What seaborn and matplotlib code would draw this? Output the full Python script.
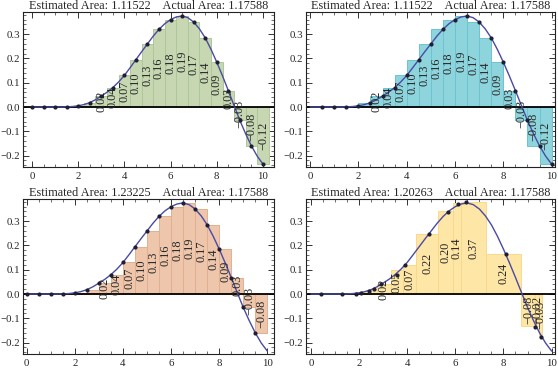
import numpy as np
import pandas as pd
import matplotlib
matplotlib.use("Agg")
import matplotlib.pyplot as plt
from matplotlib.ticker import MultipleLocator
import seaborn as sns

# curve, step 0.25
curve_x = [i * 0.25 for i in range(41)]
curve_y = [0, 0, 0, 0, 0, 0, 0.0005, 0.002, 0.005, 0.01, 0.018, 0.03, 0.045, 0.061,
           0.08, 0.103, 0.13, 0.162, 0.195, 0.228, 0.26, 0.292, 0.32, 0.343, 0.36,
           0.371, 0.375, 0.368, 0.35, 0.322, 0.285, 0.238, 0.185, 0.128, 0.068,
           0.006, -0.055, -0.11, -0.16, -0.202, -0.235]

# regular sample points (step 0.5)
grid_x = [i * 0.5 for i in range(21)]
grid_y = [0, 0, 0, 0.001, 0.005, 0.018, 0.045, 0.08, 0.13, 0.195, 0.26, 0.32, 0.36,
          0.375, 0.35, 0.285, 0.185, 0.068, -0.055, -0.16, -0.235]

lab_right = ["", "", "", "", "", "0.02", "0.04", "0.07", "0.10", "0.13", "0.16",
             "0.18", "0.19", "0.17", "0.14", "0.09", "0.03", "\u22120.03", "\u22120.08", "\u22120.12"]
lab_left = ["", "", "", "", "", "", "0.02", "0.04", "0.07", "0.10", "0.13", "0.16",
            "0.18", "0.19", "0.17", "0.14", "0.09", "0.03", "\u22120.03", "\u22120.08"]

# irregular partition (bottom right)
p4_edges = [0, 0.85, 1.6, 1.95, 2.2, 2.5, 2.76, 3.31, 3.83, 4.38, 5.27, 5.89, 6.25,
            7.27, 8.72, 9.33, 9.47, 9.62]
p4_heights = [0, 0, 0.002, 0.006, 0.014, 0.02, 0.04, 0.1, 0.121, 0.249, 0.341, 0.373,
              0.377, 0.1665, -0.13, -0.13, -0.175]
p4_labels = ["", "", "", "", "", "", "0.02", "0.05", "0.07", "0.22", "0.20", "0.14",
             "0.37", "0.24", "\u22120.08", "\u22120.02", "\u22120.03"]
p4_dot_x = [0.44, 1.31, 1.86, 2.07, 2.41, 2.62, 2.9, 3.59, 3.9, 4.9, 5.68, 6.1, 6.44,
            8.11, 9.31, 9.56]
p4_dot_y = [0, 0, 0.001, 0.006, 0.014, 0.022, 0.04, 0.08, 0.121, 0.249, 0.336, 0.369,
            0.377, 0.166, -0.134, -0.178]

titles = ["Estimated Area: 1.11522    Actual Area: 1.17588",
          "Estimated Area: 1.11522    Actual Area: 1.17588",
          "Estimated Area: 1.23225    Actual Area: 1.17588",
          "Estimated Area: 1.20263    Actual Area: 1.17588"]
fills = ["#c6d7b1", "#8ed4dc", "#edc6ab", "#fee6a6"]
edges = ["#aec79a", "#6cc4cf", "#e3b08f", "#f8d98c"]

sns.set_style("ticks")
plt.rcParams['font.family'] = ['Liberation Serif', 'DejaVu Serif']
plt.rcParams['axes.unicode_minus'] = True

fig = plt.figure(figsize=(5.58, 3.74), dpi=100)
boxes = [[0.0407, 0.5535, 0.4504, 0.4135], [0.548, 0.5535, 0.4466, 0.4135],
         [0.0407, 0.0535, 0.4504, 0.4135], [0.548, 0.0535, 0.4466, 0.4135]]
xlims = [(-0.4, 10.48), (-0.18, 10.14), (-0.17, 10.28), (-0.21, 10.14)]

curve = pd.DataFrame({"x": curve_x, "y": curve_y})
grid = pd.DataFrame({"x": grid_x, "y": grid_y})

for k in range(4):
    ax = fig.add_axes(boxes[k])
    if k == 0:
        lefts = [x - 0.25 for x in grid_x]
        widths = [0.5] * 21
        heights = grid_y
        labels = [""] + lab_right
        dots = grid
    elif k == 1:
        lefts = [x - 0.5 for x in grid_x[1:]]
        widths = [0.5] * 20
        heights = grid_y[1:]
        labels = lab_right
        dots = grid.iloc[1:]
    elif k == 2:
        lefts = grid_x[:-1]
        widths = [0.5] * 20
        heights = grid_y[:-1]
        labels = lab_left
        dots = grid.iloc[:-1]
    else:
        lefts = p4_edges[:-1]
        widths = list(np.diff(p4_edges))
        heights = p4_heights
        labels = p4_labels
        dots = pd.DataFrame({"x": p4_dot_x, "y": p4_dot_y})

    ax.bar(lefts, heights, width=widths, align="edge", color=fills[k],
           edgecolor=edges[k], linewidth=0.7, zorder=1)
    for l, w, h, t in zip(lefts, widths, heights, labels):
        if t:
            ax.text(l + w / 2, h / 2, t, rotation=90, ha="center", va="center",
                    fontsize=8.8, zorder=5)
    ax.axhline(0, color="black", linewidth=1.3, zorder=2)
    sns.lineplot(data=curve, x="x", y="y", ax=ax, color="#4a4aa6", linewidth=1.0,
                 zorder=3)
    sns.scatterplot(data=dots, x="x", y="y", ax=ax, color="#1f1f33", s=9,
                    linewidth=0, zorder=4)

    ax.set_xlim(*xlims[k])
    ax.set_ylim(-0.247, 0.39)
    ax.set_xlabel("")
    ax.set_ylabel("")
    ax.xaxis.set_major_locator(MultipleLocator(2))
    ax.xaxis.set_minor_locator(MultipleLocator(0.5))
    ax.yaxis.set_major_locator(MultipleLocator(0.1))
    ax.yaxis.set_minor_locator(MultipleLocator(0.02))
    ax.set_xticks([0, 2, 4, 6, 8, 10])
    ax.set_yticks([-0.2, -0.1, 0.0, 0.1, 0.2, 0.3])
    ax.set_yticklabels(["\u22120.2", "\u22120.1", "0.0", "0.1", "0.2", "0.3"])
    ax.tick_params(which="both", direction="in", top=True, right=True,
                   labelsize=7.8, color="#333333")
    ax.tick_params(axis="x", pad=3.5)
    ax.tick_params(axis="y", pad=2)
    ax.tick_params(which="major", length=4, width=0.7)
    ax.tick_params(which="minor", length=2, width=0.5)
    for s in ax.spines.values():
        s.set_linewidth(0.8)
        s.set_color("#222222")
    ax.set_title(titles[k], fontsize=8.8, pad=1.2)

fig.savefig("out.png", dpi=100)
